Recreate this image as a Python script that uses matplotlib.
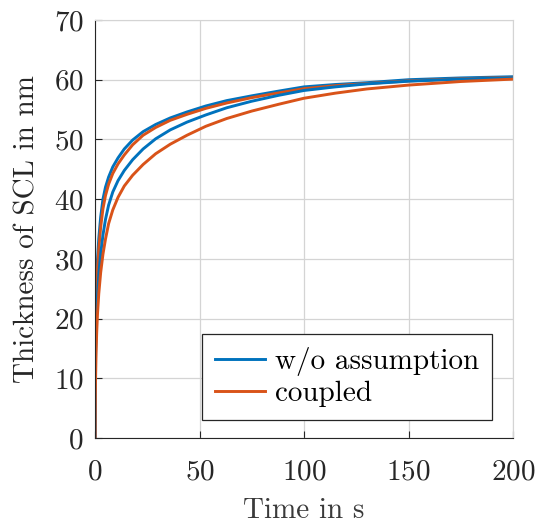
import matplotlib
matplotlib.use("Agg")
import matplotlib.pyplot as plt

plt.rcParams['font.family'] = 'serif'
plt.rcParams['font.serif'] = ['cmr10']
plt.rcParams['mathtext.fontset'] = 'cm'
plt.rcParams['axes.formatter.use_mathtext'] = True

# time in s
t = [0, 0.05, 0.15, 0.3, 0.5, 0.8, 1.2, 1.8, 2.7, 3.8, 5, 6.5, 8.5, 11, 14, 18,
     23, 29, 36, 44, 53, 63, 75, 88, 100, 115, 130, 150, 175, 200]

# thickness of SCL in nm (two runs per model)
wo_fast = [0, 10, 15.5, 20, 23.7, 27.2, 30, 33.4, 37.0, 40, 42.0, 43.7, 45.4, 46.9, 48.4, 49.9,
           51.3, 52.5, 53.6, 54.6, 55.6, 56.5, 57.3, 58.1, 58.8, 59.2, 59.5, 60.0, 60.3, 60.5]
cp_fast = [0, 8.5, 14, 18, 21.8, 25.4, 28.3, 31.6, 35.3, 38.4, 40.6, 42.5, 44.3, 45.9, 47.4, 49.1,
           50.7, 52.0, 53.2, 54.2, 55.2, 56.1, 57.0, 57.8, 58.5, 59.0, 59.35, 59.8, 60.15, 60.4]
wo_slow = [0, 6.5, 11, 14.5, 17.5, 21, 24, 27.5, 30.8, 34.0, 36.6, 39.0, 41.2, 43.1, 44.8, 46.6,
           48.4, 50.1, 51.6, 52.9, 54.1, 55.3, 56.4, 57.4, 58.2, 58.8, 59.3, 59.75, 60.1, 60.35]
cp_slow = [0, 4, 7.5, 10.6, 14.2, 17.7, 20.9, 24.2, 27.7, 30.8, 33.3, 35.9, 38.2, 40.3, 42.2, 44.0,
           45.8, 47.6, 49.2, 50.7, 52.2, 53.5, 54.75, 55.9, 56.9, 57.75, 58.45, 59.1, 59.7, 60.1]

blue = '#0072BD'
orange = '#D95319'
dark = '#262626'

fig = plt.figure(figsize=(5.39, 5.25), dpi=100)
ax = fig.add_axes([0.1763, 0.1657, 0.7755, 0.7962])

ax.plot(t, wo_fast, color=blue, lw=2.1, label='w/o assumption')
ax.plot(t, cp_fast, color=orange, lw=2.1, label='coupled')
ax.plot(t, wo_slow, color=blue, lw=2.1)
ax.plot(t, cp_slow, color=orange, lw=2.1)

ax.set_xlim(0, 200)
ax.set_ylim(0, 70)
ax.set_xticks([0, 50, 100, 150, 200])
ax.set_yticks(range(0, 80, 10))
ax.grid(True, color='#d4d4d4', lw=0.9)
ax.set_axisbelow(True)

for s in ['top', 'right']:
    ax.spines[s].set_color('#d4d4d4')
for s in ['left', 'bottom']:
    ax.spines[s].set_color(dark)
ax.tick_params(direction='in', length=5, labelsize=21, color=dark, labelcolor=dark)
ax.tick_params(axis='x', pad=15)
ax.tick_params(axis='y', pad=8)

ax.set_xlabel('Time in s', fontsize=21, color='#3a3a3a', labelpad=9)
ax.set_ylabel('Thickness of SCL in nm', fontsize=21, color=dark, labelpad=10)

leg = ax.legend(loc='lower right', bbox_to_anchor=(0.95, 0.043), fontsize=21,
                fancybox=False, edgecolor=dark, framealpha=1, handlelength=1.7,
                handletextpad=0.35, borderpad=0.45, labelspacing=0.15, borderaxespad=0)
leg.get_frame().set_linewidth(0.9)

fig.savefig('out.png', dpi=100)
